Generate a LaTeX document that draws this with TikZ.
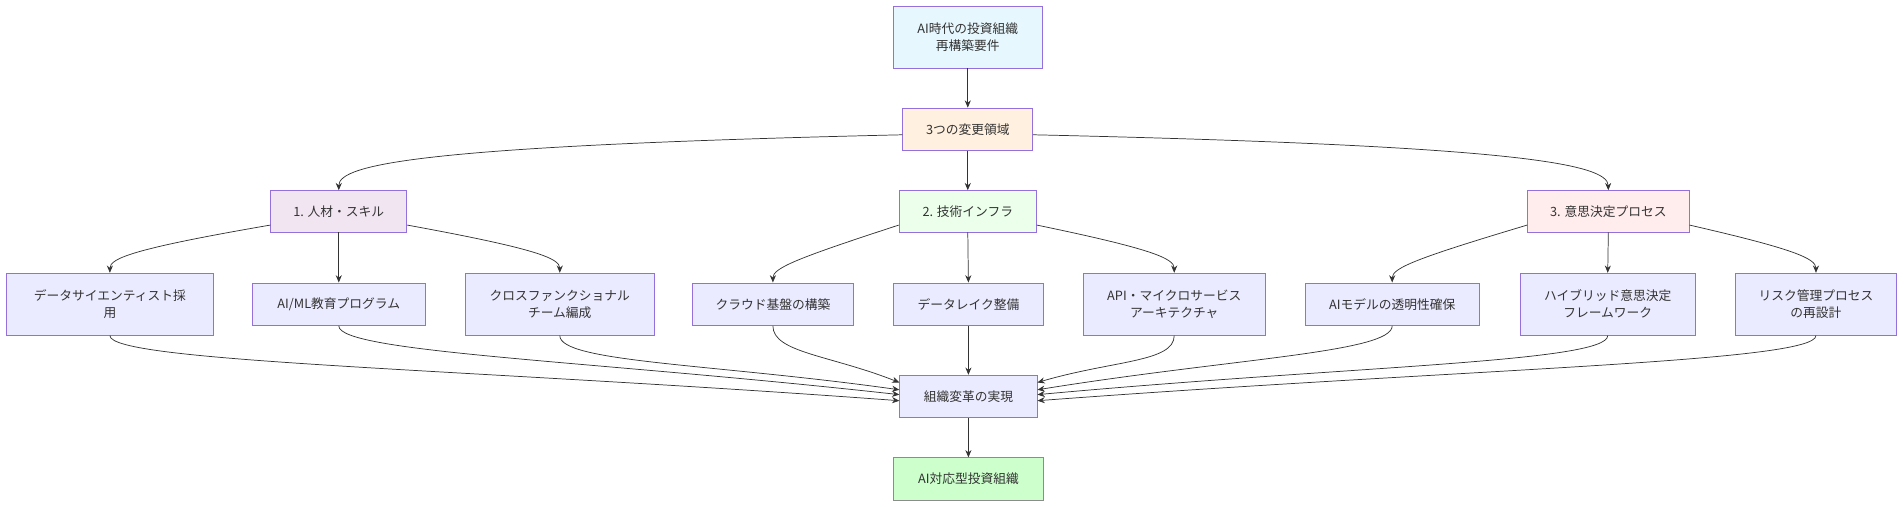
\documentclass[tikz,border=0pt]{standalone}
\usepackage{fontspec}
\setmainfont{Noto Sans CJK JP}
\usetikzlibrary{arrows.meta,calc}
\definecolor{bd}{HTML}{9370DB}
\tikzset{
  box/.style={draw=bd,line width=0.7pt,fill=#1,align=center,inner sep=0pt,font=\fontsize{10.5}{14}\selectfont,text=black!80},
  box/.default={white},
  ar/.style={draw=black!80,line width=0.6pt,-{Stealth[length=6pt,width=5pt]}},
}
\begin{document}
\begin{tikzpicture}[x=1pt,y=-1pt]
\useasboundingbox (0,0) rectangle (1568,417.5);
\newcommand\bx[6]{\node[box=#6,minimum width=#4pt,minimum height=#5pt] (#1) at #2 {#3};}
\bx{top}{(797,30.5)}{AI時代の投資組織\\再構築要件}{123}{51}{cyan!10}
\bx{chg}{(797,106.5)}{3つの変更領域}{107}{35}{orange!12}
\bx{p1}{(279,174)}{1. 人材・スキル}{112}{34}{violet!10}
\bx{p2}{(797,174)}{2. 技術インフラ}{113}{34}{green!8}
\bx{p3}{(1324.5,174)}{3. 意思決定プロセス}{133}{34}{pink!30}
\bx{a}{(90.5,250.5)}{データサイエンティスト採\\用}{171}{51}{blue!8}
\bx{b}{(279,250.5)}{AI/ML教育プログラム}{142}{35}{blue!8}
\bx{c}{(461,250.5)}{クロスファンクショナル\\チーム編成}{156}{51}{blue!8}
\bx{d}{(636.5,250.5)}{クラウド基盤の構築}{133}{35}{blue!8}
\bx{e}{(797.5,250.5)}{データレイク整備}{123}{35}{blue!8}
\bx{f}{(967,250.5)}{API・マイクロサービス\\アーキテクチャ}{150}{51}{blue!8}
\bx{g}{(1146.5,250.5)}{AIモデルの透明性確保}{143}{35}{blue!8}
\bx{h}{(1324,250.5)}{ハイブリッド意思決定\\フレームワーク}{144}{51}{blue!8}
\bx{i}{(1495.5,250.5)}{リスク管理プロセス\\の再設計}{133}{51}{blue!8}
\bx{org}{(797.5,326.5)}{組織変革の実現}{113}{35}{blue!8}
\node[box=green!20,draw=black!45,minimum width=123pt,minimum height=35pt] (fin) at (797.5,394.5) {AI対応型投資組織};
\draw[ar] (top) -- (chg);
\draw[ar] (chg) -- (p2);
\draw[ar] (chg.west|-0,111) .. controls (350,120) and (279,135) .. (p1.north);
\draw[ar] (chg.east|-0,111) .. controls (1250,120) and (1324,135) .. (p3.north);
\foreach \s/\l/\m/\r in {p1/a/b/c,p2/d/e/f,p3/g/h/i}{
  \draw[ar] (\s.south) -- (\m.north);
  \draw[ar] ($(\s.south west)+(0,-6)$) .. controls ($(\l.north)+(20,-20)$) and ($(\l.north)+(0,-12)$) .. (\l.north);
  \draw[ar] ($(\s.south east)+(0,-6)$) .. controls ($(\r.north)+(-20,-20)$) and ($(\r.north)+(0,-12)$) .. (\r.north);
}
\draw[ar] (e) -- (org);
\foreach \n/\y in {a/330,b/325,c/321,d/315}{
  \draw[ar] (\n.south) .. controls +(0,22) and ($(\n.south)!0.45!(org.west|-0,\y)+(0,3)$) .. (org.west|-0,\y);
}
\foreach \n/\y in {f/315,g/321,h/325,i/330}{
  \draw[ar] (\n.south) .. controls +(0,22) and ($(\n.south)!0.45!(org.east|-0,\y)+(0,3)$) .. (org.east|-0,\y);
}
\draw[ar] (org) -- (fin);
\end{tikzpicture}
\end{document}
